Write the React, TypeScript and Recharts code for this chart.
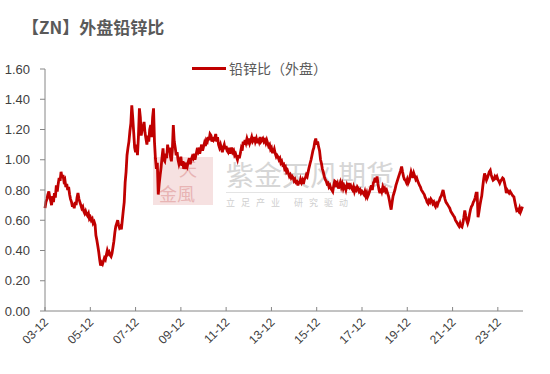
import { LineChart, Line, XAxis, YAxis } from 'recharts';

// lead/zinc ratio (LME), read twice a month: 1st and 16th of each month
const r2003 = [0.68, 0.72]; // Dec only
const r2004 = [0.74, 0.77, 0.79, 0.75, 0.73, 0.70, 0.76, 0.72, 0.78, 0.75, 0.83, 0.79, 0.84, 0.88, 0.86, 0.92, 0.88, 0.90, 0.86, 0.87, 0.82, 0.84, 0.80, 0.82];
const r2005 = [0.77, 0.74, 0.72, 0.69, 0.71, 0.68, 0.72, 0.70, 0.75, 0.78, 0.74, 0.72, 0.70, 0.68, 0.69, 0.66, 0.645, 0.66, 0.64, 0.63, 0.645, 0.61, 0.62, 0.60];
const r2006 = [0.61, 0.58, 0.59, 0.57, 0.50, 0.47, 0.43, 0.39, 0.34, 0.30, 0.32, 0.31, 0.33, 0.35, 0.34, 0.37, 0.40, 0.38, 0.39, 0.37, 0.36, 0.38, 0.42, 0.46];
const r2007 = [0.52, 0.56, 0.58, 0.60, 0.57, 0.55, 0.56, 0.54, 0.60, 0.66, 0.72, 0.85, 0.92, 1.03, 1.08, 1.12, 1.19, 1.24, 1.36, 1.28, 1.18, 1.08, 1.05, 1.10];
const r2008 = [1.03, 1.15, 1.34, 1.28, 1.16, 1.20, 1.22, 1.25, 1.18, 1.14, 1.10, 1.16, 1.12, 1.20, 1.23, 1.15, 1.28, 1.34, 1.12, 1.01, 0.94, 0.98, 0.77, 0.84];
const r2009 = [0.90, 0.95, 1.02, 1.075, 1.00, 0.99, 1.04, 1.01, 1.10, 1.05, 1.08, 1.02, 0.99, 1.06, 1.23, 1.12, 1.08, 1.03, 1.05, 1.00, 0.97, 0.99, 1.02, 0.96];
const r2010 = [0.99, 0.94, 0.96, 0.94, 0.98, 0.96, 0.99, 1.01, 0.97, 1.00, 1.02, 1.01, 1.04, 1.00, 1.03, 1.06, 1.05, 1.08, 1.04, 1.07, 1.10, 1.06, 1.085, 1.11];
const r2011 = [1.09, 1.13, 1.12, 1.15, 1.13, 1.17, 1.16, 1.12, 1.15, 1.13, 1.14, 1.17, 1.12, 1.15, 1.10, 1.08, 1.10, 1.075, 1.05, 1.08, 1.10, 1.07, 1.09, 1.06];
const r2012 = [1.05, 1.08, 1.04, 1.06, 1.08, 1.05, 1.06, 1.03, 1.04, 1.02, 1.00, 1.03, 1.01, 1.04, 1.075, 1.06, 1.12, 1.10, 1.13, 1.11, 1.14, 1.12, 1.14, 1.11];
const r2013 = [1.13, 1.15, 1.12, 1.13, 1.15, 1.12, 1.14, 1.11, 1.14, 1.12, 1.15, 1.12, 1.13, 1.14, 1.12, 1.13, 1.11, 1.13, 1.11, 1.09, 1.10, 1.07, 1.08, 1.05];
const r2014 = [1.05, 1.07, 1.04, 1.02, 1.03, 1.02, 1.00, 1.01, 0.98, 0.99, 0.965, 0.97, 0.94, 0.95, 0.92, 0.93, 0.91, 0.89, 0.90, 0.88, 0.89, 0.88, 0.86, 0.87];
const r2015 = [0.85, 0.855, 0.83, 0.86, 0.84, 0.87, 0.85, 0.865, 0.84, 0.87, 0.88, 0.90, 0.89, 0.92, 0.95, 0.975, 1.00, 1.03, 1.06, 1.08, 1.12, 1.14, 1.10, 1.12];
const r2016 = [1.085, 1.06, 1.00, 0.975, 0.94, 0.92, 0.89, 0.87, 0.86, 0.84, 0.845, 0.82, 0.83, 0.81, 0.80, 0.79, 0.83, 0.86, 0.855, 0.82, 0.84, 0.81, 0.83, 0.85];
const r2017 = [0.82, 0.84, 0.81, 0.83, 0.82, 0.80, 0.83, 0.81, 0.845, 0.82, 0.83, 0.81, 0.80, 0.82, 0.79, 0.81, 0.80, 0.82, 0.81, 0.79, 0.80, 0.78, 0.79, 0.78];
const r2018 = [0.77, 0.79, 0.76, 0.78, 0.755, 0.77, 0.79, 0.81, 0.83, 0.80, 0.845, 0.86, 0.88, 0.85, 0.89, 0.84, 0.80, 0.78, 0.81, 0.79, 0.82, 0.80, 0.81, 0.79];
const r2019 = [0.80, 0.78, 0.76, 0.73, 0.70, 0.67, 0.72, 0.76, 0.78, 0.80, 0.83, 0.85, 0.87, 0.89, 0.91, 0.93, 0.955, 0.92, 0.89, 0.87, 0.865, 0.85, 0.87, 0.845];
const r2020 = [0.86, 0.89, 0.92, 0.90, 0.88, 0.91, 0.89, 0.87, 0.88, 0.86, 0.845, 0.83, 0.82, 0.80, 0.79, 0.78, 0.77, 0.75, 0.74, 0.72, 0.71, 0.73, 0.72, 0.74];
const r2021 = [0.73, 0.71, 0.72, 0.70, 0.69, 0.71, 0.70, 0.72, 0.73, 0.75, 0.76, 0.78, 0.80, 0.77, 0.74, 0.72, 0.71, 0.70, 0.69, 0.68, 0.66, 0.65, 0.64, 0.63];
const r2022 = [0.62, 0.60, 0.59, 0.58, 0.57, 0.56, 0.58, 0.56, 0.555, 0.58, 0.62, 0.665, 0.63, 0.60, 0.58, 0.60, 0.64, 0.67, 0.69, 0.70, 0.72, 0.73, 0.75, 0.78];
const r2023 = [0.78, 0.62, 0.66, 0.70, 0.73, 0.76, 0.82, 0.87, 0.91, 0.89, 0.865, 0.88, 0.90, 0.92, 0.93, 0.90, 0.88, 0.865, 0.87, 0.89, 0.88, 0.89, 0.87, 0.86];
const r2024 = [0.845, 0.86, 0.87, 0.88, 0.875, 0.85, 0.82, 0.78, 0.80, 0.79, 0.78, 0.79, 0.78, 0.77, 0.76, 0.755, 0.72, 0.69, 0.665, 0.67, 0.66, 0.68, 0.655, 0.67];
const r2025 = [0.69];

const yearSeries: [number, number, number[]][] = [
  [2003, 11, r2003], [2004, 0, r2004], [2005, 0, r2005], [2006, 0, r2006], [2007, 0, r2007],
  [2008, 0, r2008], [2009, 0, r2009], [2010, 0, r2010], [2011, 0, r2011], [2012, 0, r2012],
  [2013, 0, r2013], [2014, 0, r2014], [2015, 0, r2015], [2016, 0, r2016], [2017, 0, r2017],
  [2018, 0, r2018], [2019, 0, r2019], [2020, 0, r2020], [2021, 0, r2021], [2022, 0, r2022],
  [2023, 0, r2023], [2024, 0, r2024], [2025, 0, r2025],
];

const tickYears = [2003, 2005, 2007, 2009, 2011, 2013, 2015, 2017, 2019, 2021, 2023];
const yTicks = [0, 0.2, 0.4, 0.6, 0.8, 1.0, 1.2, 1.4, 1.6];

const data = yearSeries.flatMap(([year, startMonth, vals]) =>
  vals.map((v, i) => ({
    t: Date.UTC(year, startMonth + Math.floor(i / 2), i % 2 === 0 ? 1 : 16),
    v,
  })),
);
const xTicks = tickYears.map((y) => Date.UTC(y, 11, 1));

function DateTick(props: any) {
  const { x, y, payload } = props;
  const d = new Date(payload.value);
  const label = `${String(d.getUTCFullYear() % 100).padStart(2, '0')}-${String(d.getUTCMonth() + 1).padStart(2, '0')}`;
  return (
    <g>
      <line x1={x} x2={x} y1={y} y2={y - 4} stroke="#868686" />
      <text
        x={x + 4}
        y={y + 12}
        transform={`rotate(-45, ${x + 4}, ${y + 12})`}
        textAnchor="end"
        fontSize={12}
        fill="#404040"
        fontFamily="Liberation Sans, Arial, sans-serif"
      >
        {label}
      </text>
    </g>
  );
}

const cjk = '"Noto Sans CJK SC", sans-serif';

export default function App() {
  return (
    <div style={{ position: 'absolute', left: 0, top: 0, width: 550, height: 374, background: '#fff' }}>
      <div
        style={{
          position: 'absolute', left: 22, top: 17, fontSize: 17, lineHeight: '20px', fontWeight: 700,
          color: '#595959', fontFamily: cjk,
        }}
      >
        【ZN】外盘铅锌比
      </div>

      {/* watermark */}
      <div style={{ position: 'absolute', left: 153, top: 157, width: 60, height: 48, background: '#f6e1e1' }}>
        <span style={{ position: 'absolute', left: 26, top: 2, fontSize: 18, lineHeight: '18px', color: '#e8b4b4', fontFamily: cjk }}>天</span>
        <span style={{ position: 'absolute', left: 6, top: 27, fontSize: 18, lineHeight: '18px', color: '#e8b4b4', fontFamily: cjk }}>金風</span>
      </div>
      <div
        style={{
          position: 'absolute', left: 226, top: 158, fontSize: 28, lineHeight: '32px', color: '#d6d6d6',
          fontFamily: cjk, whiteSpace: 'nowrap',
        }}
      >
        紫金天风期货
      </div>
      <div style={{ position: 'absolute', left: 226, top: 192, width: 168, height: 1, background: '#e4e4e4' }} />
      <div
        style={{
          position: 'absolute', left: 226, top: 197, fontSize: 9, lineHeight: '12px', color: '#cfcfcf',
          letterSpacing: 6, fontFamily: cjk, whiteSpace: 'nowrap',
        }}
      >
        立足产业 研究驱动
      </div>

      {/* legend */}
      <div style={{ position: 'absolute', left: 192, top: 67, width: 34, height: 3, background: '#c00000' }} />
      <div
        style={{
          position: 'absolute', left: 229, top: 58, fontSize: 14, lineHeight: '20px', color: '#595959',
          fontFamily: cjk, whiteSpace: 'nowrap',
        }}
      >
        铅锌比（外盘）
      </div>

      <div style={{ position: 'absolute', left: 0, top: 0 }}>
        <LineChart width={550} height={374} data={data} margin={{ top: 69, right: 27, bottom: 0, left: 0 }}>
          <XAxis
            dataKey="t"
            type="number"
            scale="time"
            domain={[Date.UTC(2003, 11, 1), Date.UTC(2025, 0, 10)]}
            ticks={xTicks}
            interval={0}
            tick={<DateTick />}
            tickLine={false}
            tickSize={0}
            tickMargin={0}
            height={63}
            stroke="#868686"
          />
          <YAxis
            domain={[0, 1.6]}
            ticks={yTicks}
            interval={0}
            width={45}
            tickSize={5}
            tickMargin={10}
            tickFormatter={(v: number) => v.toFixed(2)}
            tick={{ fontSize: 13, fill: '#404040', fontFamily: 'Liberation Sans, Arial, sans-serif' }}
            stroke="#868686"
          />
          <Line
            dataKey="v"
            stroke="#c00000"
            strokeWidth={2.8}
            dot={false}
            type="linear"
            isAnimationActive={false}
          />
        </LineChart>
      </div>
    </div>
  );
}
